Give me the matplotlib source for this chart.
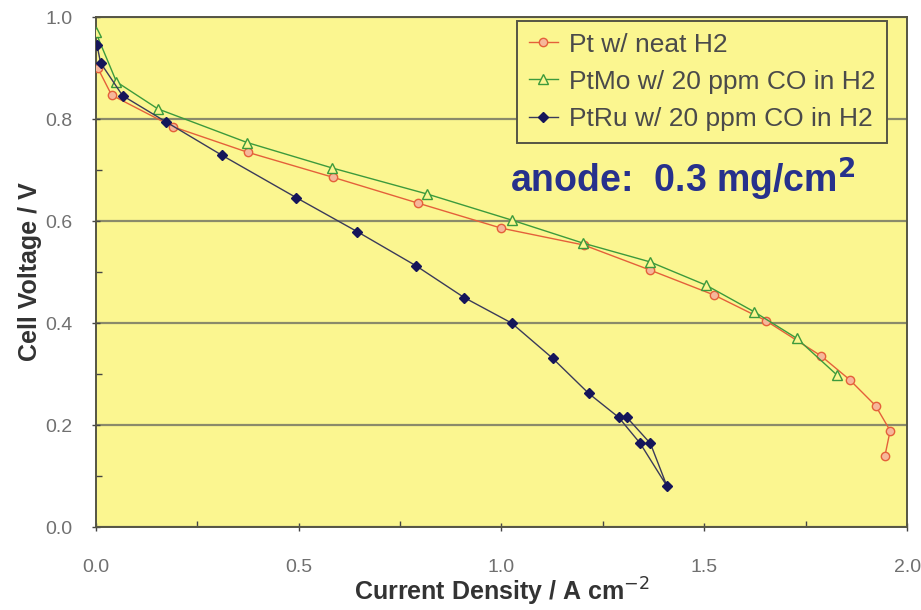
import matplotlib.pyplot as plt
from matplotlib.ticker import MultipleLocator, FormatStrFormatter

# Pt w/ neat H2
pt_j = [0.005, 0.039, 0.19, 0.374, 0.584, 0.795, 1.0, 1.203, 1.366, 1.524, 1.651, 1.787, 1.858, 1.922, 1.958, 1.945]
pt_v = [0.90, 0.847, 0.785, 0.735, 0.686, 0.635, 0.586, 0.553, 0.504, 0.455, 0.405, 0.336, 0.289, 0.238, 0.189, 0.139]

# PtMo w/ 20 ppm CO in H2
ptmo_j = [0.0, 0.051, 0.153, 0.373, 0.583, 0.817, 1.025, 1.2, 1.366, 1.505, 1.623, 1.728, 1.827]
ptmo_v = [0.97, 0.873, 0.82, 0.754, 0.704, 0.653, 0.602, 0.557, 0.52, 0.474, 0.422, 0.37, 0.298]

# PtRu w/ 20 ppm CO in H2
ptru_j = [0.003, 0.012, 0.066, 0.172, 0.311, 0.494, 0.645, 0.79, 0.908, 1.025, 1.126, 1.215, 1.289, 1.342, 1.408, 1.367, 1.309]
ptru_v = [0.945, 0.91, 0.846, 0.795, 0.729, 0.646, 0.579, 0.512, 0.45, 0.40, 0.331, 0.262, 0.215, 0.164, 0.08, 0.164, 0.215]

bg = '#FBF690'
plt.rcParams['font.family'] = ['Liberation Sans', 'DejaVu Sans']

fig = plt.figure(figsize=(9.21, 6.10), dpi=100)
ax = fig.add_axes([0.104, 0.136, 0.881, 0.836])
ax.set_facecolor(bg)

ax.plot(pt_j, pt_v, color='#E4603A', lw=1.0, marker='o', ms=6,
        mfc='#F6B79A', mec='#E4603A', mew=1.0, label='Pt w/ neat H2', zorder=3)
ax.plot(ptmo_j, ptmo_v, color='#3C9A3C', lw=1.0, marker='^', ms=7,
        mfc=bg, mec='#3C9A3C', mew=1.0, label='PtMo w/ 20 ppm CO in H2', zorder=4)
ax.plot(ptru_j, ptru_v, color='#3A3A5A', lw=1.0, marker='D', ms=5,
        mfc='#15155A', mec='#15155A', label='PtRu w/ 20 ppm CO in H2', zorder=5)

ax.set_xlim(0, 2.0)
ax.set_ylim(0, 1.0)
ax.xaxis.set_major_locator(MultipleLocator(0.5))
ax.xaxis.set_minor_locator(MultipleLocator(0.25))
ax.yaxis.set_major_locator(MultipleLocator(0.2))
ax.yaxis.set_minor_locator(MultipleLocator(0.1))
ax.xaxis.set_major_formatter(FormatStrFormatter('%.1f'))
ax.yaxis.set_major_formatter(FormatStrFormatter('%.1f'))
ax.yaxis.grid(True, which='major', color='#8A8A6A', lw=1.6)
ax.set_axisbelow(True)

ax.tick_params(which='major', length=6, width=1, color='#444444', labelsize=14,
               labelcolor='#707070', direction='inout')
ax.tick_params(which='minor', length=4, width=1, color='#444444', direction='in')
ax.tick_params(axis='x', pad=20)
ax.tick_params(axis='y', pad=14)
for s in ax.spines.values():
    s.set_color('#555544')
    s.set_linewidth(1.4)

ax.set_xlabel('Current Density / A cm$^{-2}$', fontsize=18, fontweight='bold',
              color='#333333', labelpad=0)
ax.set_ylabel('Cell Voltage / V', fontsize=18, fontweight='bold', color='#333333', labelpad=2)

leg = ax.legend(loc='upper right', bbox_to_anchor=(0.975, 0.993), fontsize=19,
                frameon=True, fancybox=False, handlelength=1.1, handletextpad=0.4,
                borderpad=0.45, labelspacing=0.5, borderaxespad=0)
leg.get_frame().set_facecolor(bg)
leg.get_frame().set_edgecolor('#555544')
leg.get_frame().set_linewidth(1.4)
leg.get_frame().set_alpha(1)
for t in leg.get_texts():
    t.set_color('#4A4A4A')

ax.text(0.51, 0.655, 'anode:  0.3 mg/cm$^{\\mathbf{2}}$', transform=ax.transAxes,
        fontsize=27, fontweight='bold', color='#27318C', va='baseline')

fig.savefig('out.png', dpi=100)
